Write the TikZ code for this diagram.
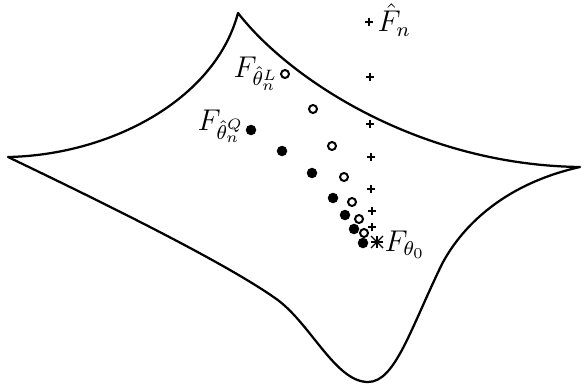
\documentclass[tikz,border=0pt]{standalone}
\usepackage{amsmath}
\begin{document}
\begin{tikzpicture}[x=0.4pt,y=-0.4pt,
    outline/.style={line width=0.9pt, line join=round},
    opendot/.style={circle, draw, line width=0.8pt, inner sep=0pt, minimum size=3.2pt},
    fulldot/.style={circle, fill, inner sep=0pt, minimum size=4.2pt},
    plusmark/.style={inner sep=0pt, minimum size=2.8pt},
    lbl/.style={anchor=base west, inner sep=0pt, font=\large}]
    \useasboundingbox (0,0) rectangle (584,386);
    % curved set
    \draw[outline] (8,157) .. controls (110,155) and (215,100) .. (238,13)
        .. controls (290,80) and (420,165) .. (580,167)
        .. controls (500,185) and (460,230) .. (442,264)
        .. controls (410,330) and (395,382) .. (368,382)
        .. controls (335,382) and (310,322) .. (275,298)
        .. controls (235,270) and (150,225) .. (8,157) -- cycle;
    % estimators
    \foreach \x/\y [count=\i] in {285/74, 313/109, 332/146, 344/177, 352/202, 359/219, 364/233}
        \node[opendot] (l\i) at (\x,\y) {};
    \foreach \x/\y [count=\i] in {251/130, 282/151, 312/173, 333/198, 345/215, 354/229, 363/243}
        \node[fulldot] (q\i) at (\x,\y) {};
    \foreach \x/\y [count=\i] in {369/22, 370/77, 370/124, 371/157, 371/189, 372/211, 372/227} {
        \node[plusmark] (p\i) at (\x,\y) {};
        \draw[line width=0.8pt] (p\i.west) -- (p\i.east) (p\i.north) -- (p\i.south);
    }
    \node[inner sep=0pt, minimum size=4.4pt] (t0) at (377,242) {};
    \foreach \a in {0,45,90,135}
        \draw[line width=0.5pt] (t0.\a) -- (t0.\a+180);
    % labels
    \node[lbl] (lblFn) at (377,32) {$\hat{F}_n$};
    \node[lbl] (lblL) at (233,77) {$F_{\hat{\theta}_n^L}$};
    \node[lbl] (lblQ) at (197,130) {$F_{\hat{\theta}_n^Q}$};
    \node[lbl] (lblT) at (384,251) {$F_{\theta_0}$};
\end{tikzpicture}
\end{document}
